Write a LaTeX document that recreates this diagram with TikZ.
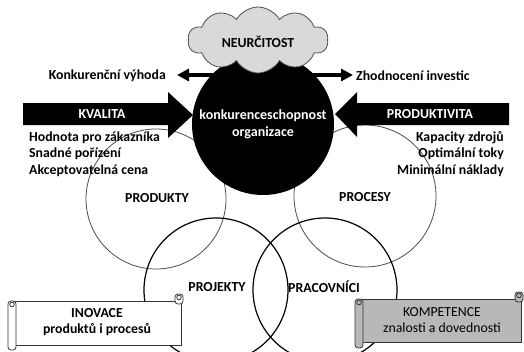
\documentclass[tikz,border=0pt]{standalone}
\usepackage{fontspec}
\setmainfont{Carlito}
\usetikzlibrary{arrows.meta,shapes.symbols}
\begin{document}
\begin{tikzpicture}[x=1pt,y=-1pt,
  lbl/.style={font=\fontsize{13.8}{16}\selectfont\bfseries, inner sep=0pt},
  lblreg/.style={font=\fontsize{13.8}{16}\selectfont, inner sep=0pt},
  thinring/.style={draw=black!70, line width=0.8pt},
  thickring/.style={draw=black, line width=1.2pt},
  scrollline/.style={draw=black!80, line width=0.8pt},
  bigarrow/.style={fill=black},
]
\fill[white] (0,0) rectangle (524,351);
\useasboundingbox (0,0) rectangle (524,351);
\clip (0,0) rectangle (524,351);

% rings
\draw[thinring] (156,199) circle[radius=70];
\draw[thinring] (365,196) circle[radius=71];
\draw[thickring] (216,290) circle[radius=72];
\draw[thickring] (325,290) circle[radius=72];

% ring labels
\node[lbl] (produkty) at (157,198) {PRODUKTY};
\node[lbl] (procesy) at (365,197) {PROCESY};
\node[lbl] (projekty) at (217,287) {PROJEKTY};
\node[lbl] (pracovnici) at (324,287) {PRACOVNÍCI};

% double arrow and its labels
\node[lbl, anchor=east] (vyhoda) at (166,76) {Konkurenční výhoda};
\node[lbl, anchor=west] (invest) at (356,76) {Zhodnocení investic};
\coordinate (la) at (177,75);
\coordinate (ra) at (353,75);
\draw[line width=3.5pt, {Triangle[length=12pt,width=12pt]}-{Triangle[length=12pt,width=12pt]}] (la) -- (ra);

% core circle
\node[circle, fill=black, minimum size=142pt, inner sep=0pt] (core) at (263,124) {};
\node[lbl, text=white, align=center, font=\fontsize{14}{17}\selectfont\bfseries] (coretext) at (263,124) {konkurenceschopnost\\organizace};

% cloud
\node[cloud, cloud puffs=10, cloud puff arc=120, aspect=2.1, draw=black!70, fill=black!15,
      line width=0.8pt, minimum width=140pt, minimum height=66pt] (cloud) at (258,40) {};
\node[lbl] (neurcitost) at (258,42) {NEURČITOST};

% KVALITA arrow
\fill[bigarrow] (23,103) -- (168,103) -- (168,92) -- (193,115) -- (168,138) -- (168,125) -- (23,125) -- cycle;
\node[lbl, text=white] (kvalita) at (102,114) {KVALITA};
% PRODUKTIVITA arrow
\fill[bigarrow] (509,103) -- (357,103) -- (357,92) -- (335,114) -- (357,137) -- (357,125) -- (509,125) -- cycle;
\node[lbl, text=white] (produktivita) at (430,114) {PRODUKTIVITA};

% left list
\node[lbl, anchor=west] (l1) at (29,138) {Hodnota pro zákazníka};
\node[lbl, anchor=west] (l2) at (29,154) {Snadné pořízení};
\node[lbl, anchor=west] (l3) at (29,171) {Akceptovatelná cena};
% right list
\node[lbl, anchor=east] (r1) at (504,138) {Kapacity zdrojů};
\node[lbl, anchor=east] (r2) at (504,154) {Optimální toky};
\node[lbl, anchor=east] (r3) at (504,171) {Minimální náklady};

% INOVACE scroll
\draw[scrollline, fill=white] (12,301) rectangle (181,345);
\draw[scrollline, fill=white, rounded corners=3pt] (175,294) rectangle (183,304);
\draw[scrollline, fill=white] (179,297.5) circle[radius=2.3];
\draw[scrollline, fill=white, rounded corners=3pt] (8,301) rectangle (16,350);
\draw[scrollline, fill=white] (12,304.5) circle[radius=2.3];
\node[lbl] (inovace) at (97,313) {INOVACE};
\node[lbl] (inovace2) at (97,330) {produktů i procesů};

% KOMPETENCE scroll
\draw[scrollline, fill=black!28] (359,299) rectangle (521,342);
\draw[scrollline, fill=black!28, rounded corners=3pt] (515,292) rectangle (523,302);
\draw[scrollline, fill=black!28] (519,295.5) circle[radius=2.3];
\draw[scrollline, fill=black!28, rounded corners=3pt] (355,299) rectangle (363,348);
\draw[scrollline, fill=black!28] (359,302.5) circle[radius=2.3];
\node[lblreg] (kompetence) at (442,312) {KOMPETENCE};
\node[lblreg] (kompetence2) at (442,328) {znalosti a dovednosti};
\end{tikzpicture}
\end{document}
